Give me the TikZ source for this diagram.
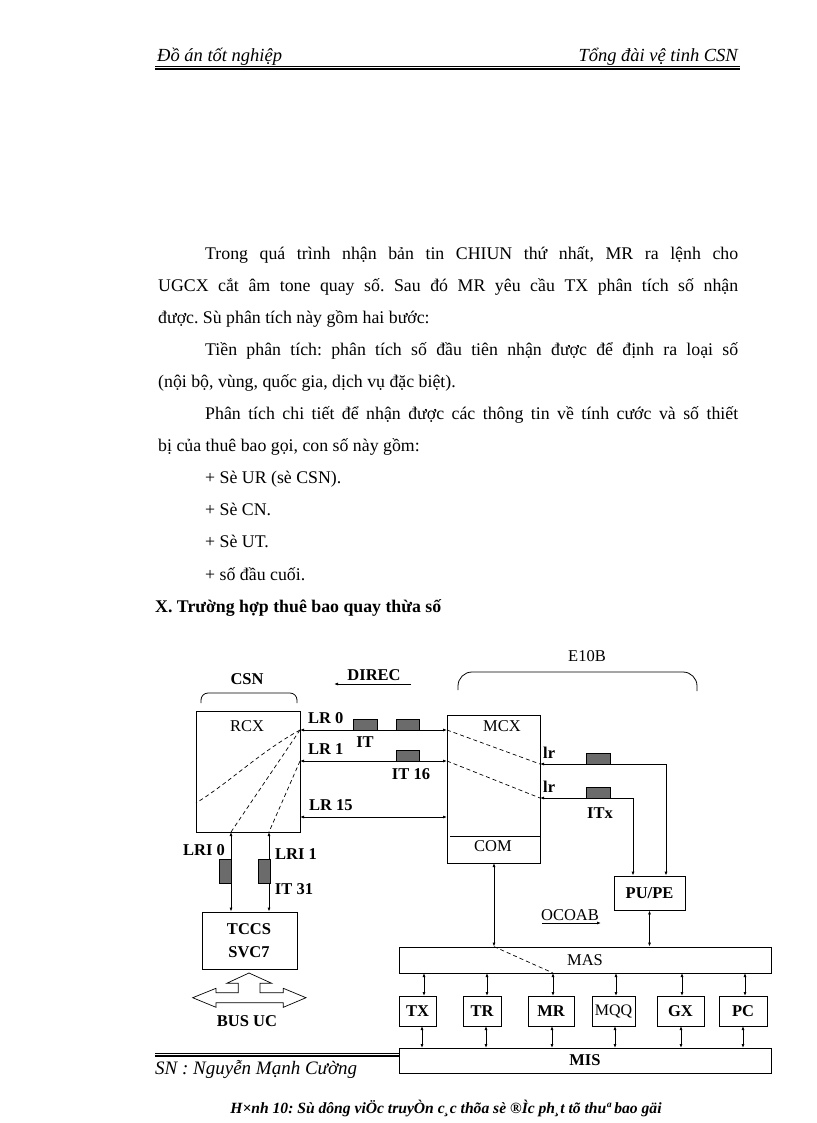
\documentclass[tikz,border=0pt]{standalone}
\usepackage{fontspec}
\setmainfont{Liberation Serif}
\usetikzlibrary{arrows.meta}
\frenchspacing
\begin{document}
\begin{tikzpicture}[x=1pt,y=-1pt,
  box/.style={draw,line width=0.8pt,inner sep=0pt,fill=white},
  hatch/.style={draw,line width=0.6pt,fill=black!58,inner sep=0pt},
  dbl/.style={line width=0.8pt,{Latex[length=4pt,width=3pt]}-{Latex[length=4pt,width=3pt]}},
  sgl/.style={line width=0.8pt,-{Latex[length=4pt,width=3pt]}},
  dsh/.style={line width=0.7pt,dash pattern=on 4pt off 3pt},
  lbl/.style={inner sep=0pt,font=\fontsize{16.5}{19}\selectfont},
  blbl/.style={inner sep=0pt,font=\fontsize{16.5}{19}\selectfont\bfseries},
  body/.style={inner sep=0pt,anchor=base west,font=\fontsize{17.8}{20}\selectfont\frenchspacing},
]
\useasboundingbox[fill=white] (0,0) rectangle (816,1123);
% header
\node[inner sep=0pt,anchor=base west,font=\fontsize{18.5}{20}\selectfont\itshape] (h1) at (157,62) {Đồ án tốt nghiệp};
\node[inner sep=0pt,anchor=base east,font=\fontsize{18.5}{20}\selectfont\itshape] (h2) at (738,62) {Tổng đài vệ tinh CSN};
\draw[line width=0.8pt] (155,66.5) -- (740,66.5);
\draw[line width=1.3pt] (155,69) -- (740,69);
% body
\node[body] (p1) at (205,259) {\makebox[533pt][s]{Trong quá trình nhận bản tin CHIUN thứ nhất, MR ra lệnh cho}};
\node[body] (p2) at (158,291.1) {\makebox[580pt][s]{UGCX cắt âm tone quay số. Sau đó MR yêu cầu TX phân tích số nhận}};
\node[body] (p3) at (158,323.2) {được. Sù phân tích này gồm hai bước:};
\node[body] (p4) at (205,355.3) {\makebox[533pt][s]{Tiền phân tích: phân tích số đầu tiên nhận được để định ra loại số}};
\node[body] (p5) at (158,387.4) {(nội bộ, vùng, quốc gia, dịch vụ đặc biệt).};
\node[body] (p6) at (205,419.5) {\makebox[533pt][s]{Phân tích chi tiết để nhận được các thông tin về tính cước và số thiết}};
\node[body] (p7) at (158,451.6) {bị của thuê bao gọi, con số này gồm:};
\node[body] (p8) at (205,483.7) {+ Sè UR (sè CSN).};
\node[body] (p9) at (205,515.8) {+ Sè CN.};
\node[body] (p10) at (205,547.9) {+ Sè UT.};
\node[body] (p11) at (205,580) {+ số đầu cuối.};
\node[body,font=\fontsize{17.8}{20}\selectfont\bfseries] (p12) at (155,612) {X. Trường hợp thuê bao quay thừa số};
% footer
\draw[line width=0.8pt] (155,1053) -- (399,1053);
\draw[line width=1.2pt] (155,1056) -- (399,1056);
\node[inner sep=0pt,anchor=base west,font=\fontsize{19}{21}\selectfont\itshape] (sn) at (155,1074) {SN : Nguyễn Mạnh Cường};
\node[inner sep=0pt,anchor=base,font=\fontsize{15.6}{17}\selectfont\bfseries\itshape] (cap) at (446,1113) {H×nh 10: Sù dông viÖc truyÒn c¸c thõa sè ®Ìc  ph¸t tõ thuª bao gäi};
% ---------- diagram ----------
\node[blbl] (csn) at (247,679) {CSN};
\draw[line width=0.8pt,rounded corners=7pt] (201,703) -- (201,693) -- (297,693) -- (297,703);
\node[blbl] (direc) at (374,675) {DIREC};
\coordinate (dirS) at (411,684); \coordinate (dirE) at (334,684);
\draw[sgl] (dirS) -- (dirE);
\node[lbl] (e10b) at (587,656) {E10B};
\draw[line width=0.8pt,rounded corners=14pt] (458,690) -- (458,672) -- (697,672) -- (697,691);
% RCX
\node[box,minimum width=104pt,minimum height=121pt] (rcx) at (248,771.5) {};
\node[lbl] (rcxl) at (247,726) {RCX};
% MCX
\node[box,minimum width=93pt,minimum height=148pt] (mcx) at (493.5,789) {};
\node[lbl] (mcxl) at (502,726) {MCX};
\coordinate (sepA) at (450,836); \coordinate (sepB) at (540,836);
\draw[line width=0.8pt] (sepA) -- (sepB);
\node[lbl] (com) at (493,846) {COM};
% LR lines
\coordinate (r0) at (300,730); \coordinate (m0) at (447,730);
\coordinate (r1) at (300,761); \coordinate (m1) at (447,761);
\coordinate (r15) at (300,817); \coordinate (m15) at (447,817);
\draw[dbl] (r0) -- (m0);
\draw[dbl] (r1) -- (m1);
\draw[dbl] (r15) -- (m15);
\node[blbl,anchor=west] (lr0) at (308,718) {LR 0};
\node[blbl,anchor=west] (lr1) at (308,749) {LR 1};
\node[blbl,anchor=west] (lr15) at (309,805) {LR 15};
\node[hatch,minimum width=24pt,minimum height=11pt] (it0a) at (365,724.5) {};
\node[hatch,minimum width=23pt,minimum height=11pt] (it0b) at (407.5,724.5) {};
\node[hatch,minimum width=23pt,minimum height=11pt] (it16) at (407.5,755.5) {};
\node[blbl] (itl) at (365,742) {IT};
\node[blbl] (it16l) at (411,774) {IT 16};
% RCX dashed
\coordinate (rl) at (196,803); \coordinate (rb1) at (231,832); \coordinate (rb2) at (269,832);
\draw[dsh] (r0) .. controls (260,752) and (230,782) .. (rl);
\draw[dsh] (r0) -- (rb1);
\draw[dsh] (r1) -- (rb2);
% MCX dashed
\coordinate (ml0) at (540,764); \coordinate (ml1) at (540,798);
\draw[dsh] (m0) -- (ml0);
\draw[dsh] (m1) -- (ml1);
% PU/PE
\node[box,minimum width=71pt,minimum height=34pt,font=\fontsize{16.5}{19}\selectfont\bfseries] (pupe) at (649.5,893) {PU/PE};
\coordinate (k0) at (666,764); \coordinate (k1) at (633,798);
\draw[dbl] (pupe.north -| k0) -- (k0) -- (ml0);
\draw[dbl] (pupe.north -| k1) -- (k1) -- (ml1);
\node[hatch,minimum width=24pt,minimum height=11pt] (itx0) at (598,758.5) {};
\node[hatch,minimum width=24pt,minimum height=11pt] (itx1) at (598,792.5) {};
\node[lbl,anchor=west] (lra) at (543,753) {\bfseries lr};
\node[lbl,anchor=west] (lrb) at (543,787) {\bfseries lr};
\node[blbl] (itx) at (600,813) {ITx};
% OCOAB
\node[lbl] (ocoab) at (570,915) {OCOAB};
\coordinate (ocS) at (542,923); \coordinate (ocE) at (601,923);
\draw[sgl] (ocS) -- (ocE);
% MAS / MIS
\node[box,minimum width=372pt,minimum height=26pt,font=\fontsize{16.5}{19}\selectfont] (mas) at (585,960) {MAS};
\node[box,minimum width=372pt,minimum height=25pt,font=\fontsize{16.5}{19}\selectfont\bfseries] (mis) at (585,1060.5) {MIS};
\coordinate (comb) at (494,863);
\draw[dbl] (comb) -- (mas.north -| comb);
\draw[dbl] (pupe.south) -- (mas.north -| pupe.south);
% unit boxes
\tikzset{unit/.style={box,minimum height=30pt,font=\fontsize{16.5}{19}\selectfont\bfseries}}
\node[unit,minimum width=37pt] (tx) at (417.5,1011) {TX};
\node[unit,minimum width=38pt] (tr) at (482,1011) {TR};
\node[unit,minimum width=46pt] (mr) at (551,1011) {MR};
\node[unit,minimum width=43pt,font=\fontsize{16}{19}\selectfont] (mqq) at (613.5,1011) {MQQ};
\node[unit,minimum width=47pt] (gx) at (680.5,1011) {GX};
\node[unit,minimum width=48pt] (pc) at (743,1011) {PC};
\foreach \n/\a/\b in {tx/424/422, tr/487/486, mr/553/552, mqq/616/615, gx/682/681, pc/745/743}{
  \draw[dbl] (\a,973) -- (\a,996);
  \draw[dbl] (\b,1026) -- (\b,1048);
}
\coordinate (mrtop) at (553,973);
\draw[dsh] (mas.north -| comb) -- (mrtop);
% TCCS
\node[box,minimum width=95pt,minimum height=57pt] (tccs) at (249.5,940.5) {};
\node[blbl] (tccsl) at (249,929) {TCCS};
\node[blbl] (svc) at (249,952) {SVC7};
\draw[dbl] (rb1) -- (tccs.north -| rb1);
\draw[dbl] (rb2) -- (tccs.north -| rb2);
\node[hatch,minimum width=12pt,minimum height=24pt] (lri0b) at (225,871) {};
\node[hatch,minimum width=12pt,minimum height=24pt] (lri1b) at (264,871) {};
\node[blbl] (lri0) at (204,850) {LRI 0};
\node[blbl] (lri1) at (296,854) {LRI 1};
\node[blbl] (it31) at (294,889) {IT 31};
% BUS UC
\draw[line width=0.7pt] (192.7,997.7) -- (216,988.3) -- (216,992.7) -- (238.3,992.7) -- (238.3,983.3) -- (226.7,983.3) -- (249,973) -- (271.7,983.3) -- (260,983.3) -- (260,992.7) -- (283.3,992.7) -- (283.3,988.3) -- (306,997.7) -- (283.3,1007.3) -- (283.3,1002.7) -- (216,1002.7) -- (216,1007.3) -- cycle;
\node[blbl] (bus) at (247,1021) {BUS UC};
\end{tikzpicture}
\end{document}
